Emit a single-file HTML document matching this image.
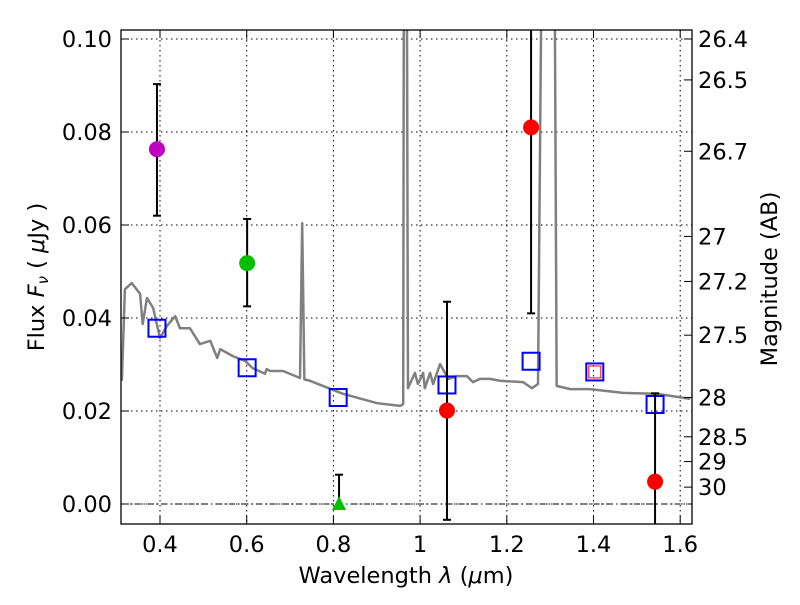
<!DOCTYPE html>
<html><head><meta charset="utf-8"><style>
body{margin:0;background:#fff}
svg text{font-family:"DejaVu Sans","Liberation Sans",sans-serif;font-size:22.5px;fill:#000}
</style></head><body>
<svg id="chart" width="800" height="600" xmlns="http://www.w3.org/2000/svg">
<defs><clipPath id="clip"><rect x="121" y="30" width="571" height="494"/></clipPath></defs>
<rect x="0" y="0" width="800" height="600" fill="#fff"/>
<g id="grid"></g>
<g id="plot" clip-path="url(#clip)"></g>
<rect x="121" y="30" width="571" height="494" fill="none" stroke="#000" stroke-width="1.3"/>
<g id="axes"></g>
<text x="406" y="583" text-anchor="middle">Wavelength  <tspan font-style="italic">λ</tspan> (<tspan font-style="italic">μ</tspan>m)</text>
<text transform="translate(44,277) rotate(-90)" text-anchor="middle">Flux  <tspan font-style="italic">F</tspan><tspan font-style="italic" font-size="15" dy="4">ν</tspan><tspan dy="-4">  (  </tspan><tspan font-style="italic">μ</tspan>Jy )</text>
<text transform="translate(777,279) rotate(-90)" text-anchor="middle">Magnitude (AB)</text>
</svg>
<script>
const specLam=[0.312,0.319,0.335,0.354,0.360,0.370,0.384,0.400,0.416,0.435,0.446,0.469,0.492,0.516,0.532,0.539,0.568,0.596,0.614,0.642,0.646,0.654,0.684,0.723,0.728,0.733,0.746,0.822,0.900,0.954,0.961,0.964,0.967,0.972,0.988,0.995,1.007,1.011,1.023,1.030,1.046,1.065,1.085,1.108,1.122,1.138,1.161,1.184,1.238,1.258,1.272,1.288,1.306,1.315,1.346,1.392,1.468,1.546,1.623];
const specFlux=[0.0265,0.0462,0.0475,0.0452,0.0387,0.0443,0.0422,0.0357,0.0383,0.0404,0.0378,0.0378,0.0344,0.0351,0.0314,0.0333,0.0318,0.0308,0.0292,0.0280,0.0290,0.0286,0.0286,0.0271,0.0604,0.0268,0.0265,0.0237,0.0217,0.0211,0.0215,0.2,0.2,0.0249,0.0282,0.0258,0.0282,0.0249,0.0282,0.0258,0.0301,0.0269,0.0275,0.0275,0.0262,0.0269,0.0269,0.0265,0.0262,0.0249,0.0258,0.2,0.2,0.0254,0.0247,0.0247,0.0239,0.0237,0.0226];
const ptLam=[0.393,0.601,1.062,1.256,1.542];
const ptFlux=[0.0763,0.0518,0.0201,0.081,0.0048];
const ptErrHi=[0.0903,0.0613,0.0435,0.12,0.0238];
const ptErrLo=[0.062,0.0425,-0.0034,0.041,-0.02];
const ptColor=['#bf00bf','#00bf00','#ff0000','#ff0000','#ff0000'];
const triLam=[0.813],triFlux=[0.0],triHi=[0.0063];
const modLam=[0.393,0.601,0.811,1.062,1.256,1.403,1.542];
const modFlux=[0.0378,0.0293,0.0229,0.0256,0.0307,0.0284,0.0214];
const xTicks=[0.4,0.6,0.8,1.0,1.2,1.4,1.6];
const xTickLabels=['0.4','0.6','0.8','1','1.2','1.4','1.6'];
const yTicks=[0,0.02,0.04,0.06,0.08,0.10];
const yTickLabels=['0.00','0.02','0.04','0.06','0.08','0.10'];
const magTicks=[26.4,26.5,26.7,27,27.2,27.5,28,28.5,29,30];
const magLabels=['26.4','26.5','26.7','27','27.2','27.5','28','28.5','29','30'];
const NS='http://www.w3.org/2000/svg';
const X=l=>160+(l-0.4)*433.5;
const Y=f=>504-f*4650;
function mk(p,t,a){const e=document.createElementNS(NS,t);for(const k in a)e.setAttribute(k,a[k]);p.appendChild(e);return e;}
const grid=document.getElementById('grid'),plot=document.getElementById('plot'),axes=document.getElementById('axes');
xTicks.forEach((v,i)=>{
 const l=mk(grid,'line',{x1:X(v),x2:X(v),y1:30,y2:524,stroke:'#000','stroke-dasharray':'1.5,3.5','stroke-width':1});
 
 
 mk(axes,'line',{x1:X(v),x2:X(v),y1:524,y2:516,stroke:'#000'});
 mk(axes,'line',{x1:X(v),x2:X(v),y1:30,y2:38,stroke:'#000'});
 const t=mk(axes,'text',{x:X(v),y:552,'text-anchor':'middle'});t.textContent=xTickLabels[i];
 
 
});
yTicks.forEach((v,i)=>{
 const l=mk(grid,'line',{x1:121,x2:692,y1:Y(v),y2:Y(v),stroke:'#000','stroke-dasharray':'1.5,3.5','stroke-width':1});
 
 
 mk(axes,'line',{x1:121,x2:129,y1:Y(v),y2:Y(v),stroke:'#000'});
 const t=mk(axes,'text',{x:112,y:Y(v)+8,'text-anchor':'end'});t.textContent=yTickLabels[i];
 
 
});
{const z=mk(grid,'line',{x1:121,x2:692,y1:Y(0),y2:Y(0),stroke:'#000','stroke-dasharray':'6,3,1.5,3','stroke-width':1});
 
 }
magTicks.forEach((m,i)=>{
 const f=Math.pow(10,(23.9-m)/2.5);const y=Y(f);
 mk(axes,'line',{x1:684,x2:692,y1:y,y2:y,stroke:'#000'});
 const t=mk(axes,'text',{x:698,y:y+8});t.textContent=magLabels[i];
 
 
});
const sp=mk(plot,'polyline',{points:specLam.map((l,i)=>X(l)+','+Y(specFlux[i])).join(' '),fill:'none',stroke:'#808080','stroke-width':2.5,'stroke-linejoin':'round'});


modLam.forEach((l,i)=>{
 const r=mk(plot,'rect',{x:X(l)-8.5,y:Y(modFlux[i])-8.5,width:17,height:17,fill:'none',stroke:'#0000ff','stroke-width':2});
 
 
});
{const i=5;const r=mk(plot,'rect',{x:X(modLam[i])-6,y:Y(modFlux[i])-6,width:12,height:12,fill:'none',stroke:'#ff0000','stroke-width':1});
 
 }
ptLam.forEach((l,i)=>{
 const g=mk(plot,'g',{});
 
 
 const x=X(l);
 mk(g,'line',{x1:x,x2:x,y1:Y(ptErrHi[i]),y2:Y(ptErrLo[i]),stroke:'#000','stroke-width':2});
 mk(g,'line',{x1:x-4,x2:x+4,y1:Y(ptErrHi[i]),y2:Y(ptErrHi[i]),stroke:'#000','stroke-width':2});
 mk(g,'line',{x1:x-4,x2:x+4,y1:Y(ptErrLo[i]),y2:Y(ptErrLo[i]),stroke:'#000','stroke-width':2});
 mk(g,'circle',{cx:x,cy:Y(ptFlux[i]),r:8,fill:ptColor[i]});
});
triLam.forEach((l,i)=>{
 const g=mk(plot,'g',{});
 
 
 const x=X(l),y=Y(triFlux[i]);
 mk(g,'line',{x1:x,x2:x,y1:Y(triHi[i]),y2:y,stroke:'#000','stroke-width':2});
 mk(g,'line',{x1:x-4,x2:x+4,y1:Y(triHi[i]),y2:Y(triHi[i]),stroke:'#000','stroke-width':2});
 mk(g,'polygon',{points:`${x},${y-8} ${x-7},${y+6} ${x+7},${y+6}`,fill:'#00bf00'});
});
</script>
</body></html>
